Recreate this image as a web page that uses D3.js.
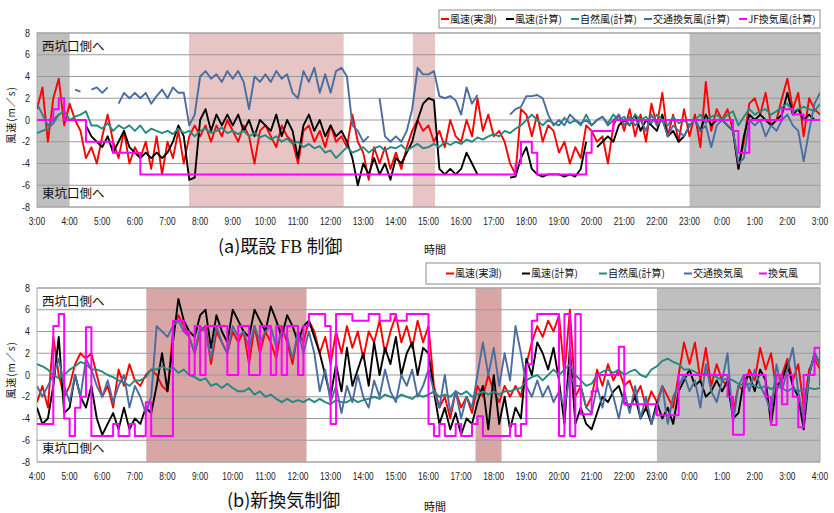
<!DOCTYPE html>
<html>
<head>
<meta charset="UTF-8">
<title>風速 比較</title>
<script src="https://cdnjs.cloudflare.com/ajax/libs/d3/7.8.5/d3.min.js"></script>
<style>
  body { margin: 0; background: #fff; }
  svg { display: block; }
  .num { font-family: "Liberation Sans", sans-serif; font-size: 10.5px; fill: #222; }
  .jp { font-family: "Noto Sans CJK JP", sans-serif; fill: #111; }
</style>
</head>
<body>
<div id="chart"></div>
<script>
// 10-minute samples, index 0 = start of panel (3:00 for a, 4:00 for b)
const STEP_H = 1 / 6;

const namesA = ["風速(実測)", "風速(計算)", "自然風(計算)", "交通換気風(計算)", "JF換気風(計算)"];
const namesB = ["風速(実測)", "風速(計算)", "自然風(計算)", "交通換気風", "換気風"];
const colors = ["#ff0000", "#000000", "#25897f", "#4a6d9f", "#ff00ff"];

const xLabelsA = ["3:00","4:00","5:00","6:00","7:00","8:00","9:00","10:00","11:00","12:00","13:00","14:00","15:00",
  "16:00","17:00","18:00","19:00","20:00","21:00","22:00","23:00","0:00","1:00","2:00","3:00"];
const xLabelsB = ["4:00","5:00","6:00","7:00","8:00","9:00","10:00","11:00","12:00","13:00","14:00","15:00","16:00",
  "17:00","18:00","19:00","20:00","21:00","22:00","23:00","0:00","1:00","2:00","3:00","4:00"];
const yTicks = [-8, -6, -4, -2, 0, 2, 4, 6, 8];

// shaded periods, hours from panel start
const shadeA = [[0, 1, "gray"], [4.66, 9.4, "pink"], [11.52, 12.2, "pink"], [20, 24, "gray"]];
const shadeB = [[3.35, 8.26, "pink"], [13.44, 14.24, "pink"], [19, 24, "gray"]];

// ---- (a) 既設FB制御 ----
const redA = [
  1, 3, -2, 2, 3.8, -0.5,
  1.5, 0, -1, -3.5, -2.5, -4,
  -1.5, 0.5, -2, -3.5, -1, -4,
  -2.5, -3.5, -2, -4.5, -1.5, -5,
  -2, -3.5, -1, -4, -1.5, -0.5,
  -1.5, -0.5, -2, -0.5, -1.5, 0,
  -1, -2, -0.5, -1.5, -4, -1,
  -0.5, -1.5, -2.5, -0.5, -1.5, -2,
  -4, -1, -0.5, -2, -1, -2.5,
  -0.5, -2, -1.5, -2.5, 0.5, -2,
  -3, -5.5, -2.5, -4, -2.5, -4.5,
  -3, -4.5, -2.5, -1, 0, -1,
  -0.5, -2, -1, -2.5, 0, -1.5,
  -2, 0, -1.5, 2, -1, 0.5,
  -1.5, -1, -2, -4, -5, 1,
  0.5, -1.5, 0.5, -2, -0.5, -1,
  -3, -2, -4, -2.5, -3.5, -0.5,
  -1, -2, -1.5, -4, -0.5, 0.5,
  -1, 1, -1.5, 0.5, -2, 1.5,
  -0.5, 2.5, -1.5, 0.5, -2, 1,
  -1.5, 0.5, -2.5, 3.5, -1, 1,
  0, 1, -1, -4.5, -2, 1.5,
  2, 0.5, 2.5, -0.5, 0, 2,
  3.8, 1, 2.5, -1.5, 2, 1,
  0.5];
const blackA = [
  null, null, null, null, null, null,
  null, null, null, -0.5, -1.5, -2,
  -2.5, -1.5, -3, -2, -1, -2.5,
  -3, -3.5, -3, -3.5, -3, -3.5,
  -3, -2, -0.5, -1.5, -5.5, -5.3,
  0, 1, -1, 0.5, -0.5, 0.5,
  -0.5, 0.5, -1, 0, -1.5, 0,
  -0.5, -1, 0.5, -1.5, 0, -1,
  -3.5, -0.5, 0.5, -1, 0, -1.5,
  -0.5, -1.5, -1, -2, -3.5, -6,
  -4, -5, -3.5, -5, -4, -5.5,
  -3.5, -4, -3, -2, 0, 1.5,
  2, 1.8, -4.5, -5, -4.5, -5,
  -4.5, -3, -4, -5, null, null,
  null, null, null, -5.3, -5.2, -3.5,
  -2.5, -4.5, -5, -5.2, -5, -5,
  -5, -5.2, -5, -5.2, -4.5, -2,
  null, -2.5, -2, -1.5, -2, -0.5,
  0, -0.5, 0.5, -1, 0, -0.5,
  -1, 0.5, -1.5, -1, -2, -1.5,
  -0.5, 0, -1, 0.5, -0.5, 0,
  0, -0.5, -1, -4.5, -1.5, 0.5,
  0, 0.5, 0, -0.5, 0, 0.5,
  2.5, 0.5, 1, 0, 0.5, 0,
  0];
const tealA = [
  -1.2, -1, -0.8, -0.3, 0.5, 0.8,
  0, 0.3, 0.5, 0.8, -0.5, -0.5,
  -0.8, -0.3, -1, -0.5, -0.8, -0.5,
  -1, -0.5, -1.2, -0.8, -1, -1.2,
  -1, -1.3, -0.8, -1.2, -1, -1.5,
  -1, -0.8, -1.2, -1, -0.7, -1.2,
  -1, -1.3, -1, -1.5, -1.2, -1.6,
  -1.4, -1.8, -1.5, -2, -1.7, -2.2,
  -2, -2.5, -2.2, -2.6, -2.4, -3,
  -2.8, -3.5, -3, -2.5, -3, -2.8,
  -2.5, -3, -2.6, -2.4, -2.8, -2.5,
  -2.6, -2.3, -2.8, -2.5, -2.2, -2.6,
  -2.5, -2.2, -2.5, -2, -2.3, -2,
  -2.2, -1.8, -2, -1.6, -1.8, -1.5,
  -1.3, -1.5, -1, -1.2, -0.8, -0.5,
  0, 0.5, 0, -0.5, 0, -0.3,
  -0.5, 0.2, -0.3, 0, -0.5, 0.5,
  -0.5, 0, 0.3, -0.3, 0.5, 0,
  0.3, -0.5, 0.5, 0, 0.3, -0.3,
  0.5, 0, -0.5, 0.3, -0.3, 0,
  -0.5, 0, 0.5, -0.3, 0.3, 0.5,
  0, 0.5, 0.8, -0.5, 0.3, 1,
  0.5, 0.8, 1, 0.5, 0.8, 1.2,
  1.5, 0.8, 1, 1.2, 1, 0.8,
  1.5];
const blueA = [
  1.5, 0.5, -0.5, 0, 0.5, null,
  null, 2.8, 2.6, null, 2.8, 3,
  2.5, 3, null, 1.5, 2.5, 2,
  2.5, 2, 2.5, 1.5, 2.2, 2.8,
  2, 3, 2.5, 2.5, -0.5, 0.5,
  4, 4.5, 3.8, 4.2, 3.5, 4.5,
  3.8, 4.5, 3.5, 1, 4, 3.5,
  4.2, 3.5, 4.5, 3.8, 4.2, 2.5,
  2, 4.5, 3.5, 4.8, 2.5, 4.2,
  2.5, 4.5, 4.8, 4, -0.5, -1,
  -2, -1.5, null, 2, -1.5, -2,
  -1.5, -2, -1, 1, 4.8, 4.2,
  4.2, 4.5, 2.2, 2, 2.2, 1.8,
  0.5, 3, 1.5, 2.3, null, null,
  null, null, null, 0.5, 1, 1.2,
  2.2, 2.2, 2.3, 2, 0.5, -0.5,
  0, -0.5, 0.5, 0, -0.3, 0,
  -0.5, 0, 0.3, -0.5, 0, 0.5,
  -0.5, 0.3, -0.5, 0, -1, 0.5,
  -0.5, 0, -1.5, -0.5, -1, -1.5,
  -0.5, 0, -1, -0.5, -2.5, -0.5,
  0, -0.5, -1, -4, -3.5, 0,
  -0.5, 0, -1.5, -0.5, -1, 0,
  0.5, -0.5, -1, -3.8, -1, 1.5,
  2.5];
const jfA = [
  0, 0, 0, 1, 2, 0,
  0, 0, 0, -2, -2, -2,
  -2, -2, -3, -3, -3, -3,
  -3, -5, -5, -5, -5, -5,
  -5, -5, -5, -5, -5, -5,
  -5, -5, -5, -5, -5, -5,
  -5, -5, -5, -5, -5, -5,
  -5, -5, -5, -5, -5, -5,
  -5, -5, -5, -5, -5, -5,
  -5, -5, -5, -5, -5, -5,
  -5, -5, -5, -5, -5, -5,
  -5, -5, -5, -5, -5, -5,
  -5, -5, -5, -5, -5, -5,
  -5, -5, -5, -5, -5, -5,
  -5, -5, -5, -5, -4, -2,
  -2, -3, -5, -5, -5, -5,
  -5, -5, -5, -5, -5, -3,
  -1, -1, -1, -1, 0, 0,
  0, 0, 0, 0, 0, 0,
  0, 0, 0, 0, 0, 0,
  0, 0, 0, 0, 0, 0,
  0, 0, -1, -3, -3, 0,
  0, 0, 0, 0, 0, 1,
  1, 0.5, 0.5, 0, 0, 0,
  0];

// ---- (b) 新換気制御 ----
const redB = [
  -2.5, -1, -3, 3.5, 0, -2,
  -1, 1, 2, 1.5, 2, 0,
  -2, -1, -3, 0.5, -1, 1,
  -0.5, -1, 0, 0.5, 0, -1,
  -1.5, 4, 5.5, 4.5, 3.5, 2,
  4, 4.5, 1, 4, 3, 2,
  4, 3, 4, 1, 4.5, 2,
  4, 3, 1.5, 4.5, 3, 1,
  4, 3, 5, 4, 2, 3.5,
  1, 4, 2, 4.5, 2.5, 4,
  1.5, 4, 3, 5, 2, 4,
  5.5, 3, 4.5, 2.5, 5, 3,
  4.5, -1, -3, -2, -4, -1.5,
  -3, -2, -3.5, -1, -2, 0,
  -1.5, -2.5, -1, -2, -1, -2,
  1, 3, 4.5, 3.5, 5, 4,
  5.5, 0, 6, -2, -1, -3,
  -2, 0.5, -1, 1, -0.5, 0.5,
  -1, -0.5, -2, -1, -3, -1.5,
  -2.5, -1, -2, -3, 0, 3,
  1, 3, -0.5, 2.5, -1, 1,
  -0.5, -1, -3.5, -1, -1.5, 0.5,
  -0.5, 2.5, 0.5, 2, -1.5, 0,
  1.5, -0.5, 1, -3, 0.5, 1.5,
  0.5];
const blackB = [
  -3, -4.5, -4, -1, 3.5, -3.5,
  -3, 0, -2, -3, -1, -4,
  -5.5, -4.5, -3.5, -5, -3, -5,
  -4, -4.5, -3, -3.5, -1, 2,
  -1.5, 3, 7, 5, 4, 3.5,
  5.5, 6, 2.5, 5.5, 4, 3,
  6, 5, 4, 3.5, 6, 5,
  4, 6.3, 5, 3.5, 5.5, 4.5,
  3, 4.5, 5, 3.5, 2, 0,
  -2, 1, -1.5, 2.5, -1, 0.5,
  2, -1, 3, 0, 2.5, 1,
  3.5, 0, 2, 3, 0, 2.5,
  2, -1.5, -4.5, -3, -5, -3.5,
  -5.5, -4, -4.5, -2.5, -1, -5,
  0, -4.5, -2, -5, -3, -4,
  1.5, 0, 3, 2, 0.5, 2.5,
  -0.5, -4.5, 2.5, -4.5, -3, -4.5,
  -5, -3.5, -2, -2.5, -1.5, -1,
  -2.5, -3, -2, -4, -3, -4.5,
  -2.5, -4, -3, -4.5, -1.5, -0.5,
  0.5, -1, -0.5, -2, -1.5, -0.5,
  -1.5, -0.5, -4, -3.5, -0.5, 0,
  -1.5, 0.5, -0.5, -4.5, -1, -0.5,
  1, -1, -2, -5, 0, 2,
  1];
const tealB = [
  1, 0.8, 0.5, 0, -0.3, 0,
  0.5, 0.8, 1.2, 1, 0.5, 0.5,
  0.3, 0, -0.2, -0.5, -0.7, -1,
  -0.5, -0.5, -0.2, 0.5, 0.5, 0.8,
  0.5, 0.7, 0.2, 0.5, 0, -0.2,
  -0.5, -0.3, -1, -0.8, -1.2, -0.8,
  -1.2, -1.5, -1.5, -1.2, -1.8, -1.5,
  -2, -1.8, -2.2, -2.5, -2.2, -2.5,
  -2.3, -2.5, -2.2, -2.5, -2.2, -2.5,
  -2.7, -2.3, -2.5, -2.5, -2.2, -2.5,
  -2.3, -2.2, -2, -2.2, -1.8, -2,
  -2.2, -1.8, -2, -2.2, -1.8, -2,
  -1.8, -1.5, -2, -1.8, -2, -1.5,
  -1.8, -1.5, -2, -1.8, -1.5, -1.8,
  -1.5, -1.8, -1.5, -1.5, -1.3, -1.2,
  -0.5, -0.2, 0, -0.5, 0, 0.5,
  0, 0.5, 1, 0, -0.5, -1,
  -0.8, 0, 0.3, 0.5, 0.2, 0.5,
  0, 0.3, 0.5, 0, -0.2, 0.5,
  0.8, 1.3, 1.5, 1.2, 1, 0.5,
  0.5, 0.3, 0, 0.2, 0, -0.2,
  -0.5, -0.3, -0.5, -0.8, -1, -0.8,
  -1, -1.2, -1, -1.3, -1, -1.2,
  -1.5, -1.2, -1.5, -1.3, -1.2, -1.3,
  -1.2];
const blueB = [
  -1, -2, -1, 0, 1.5, -1,
  -2.5, 0, -2, 1.5, 0.5, -1,
  -2, -0.5, -2.5, -1, 0, -3,
  -1, -2, -3.5, -2, 4.5, 4,
  3.5, 4.5, 5, 4, 3.5, 2,
  4.5, 4, 1.5, 4.5, 3, 2,
  4.5, 3.5, 4, 2.5, 4.5, 3,
  4, 4.5, 2.5, 4, 3.5, 1.5,
  4, 2, 4, 2, -1.5, 0.5,
  -2.5, -1, -3.5, -1, -2.5, 0,
  -2, -3, -0.5, -2, 0.5, -1.5,
  -2.5, 0, -1, 0.5, -2, -1,
  0.5, -1.5, -3, 0, -3.5, -1.5,
  -4, -2, -3, 0, 3, 0,
  2.5, -1, 2, -0.5, 4.5, 2,
  -1, -2, -0.5, -2, -1, -2.5,
  -1.5, -3, 0, -1, -1, -3,
  -3.5, -1, -3, -0.5, -2, -4,
  -1.5, -3.5, -1, -4, -2, -4.5,
  -3, -1, -4.5, -2, -1, 0,
  -1.5, -0.5, -3, 1, -1.5, -2.5,
  -0.5, 2, -4.5, -1, 0, -1.5,
  0.5, -1, -2, -3.5, 1, -1.5,
  0.5, 2.5, -1.5, -4, 0, 2,
  1];
const ventB = [
  -4.5, -4.5, -4.5, 4.5, 5.6, -4,
  -5.6, -3, -2, 4.4, -5.6, -5.6,
  -5.6, -5.6, -4.5, -5.6, -5.6, -4.5,
  -5.6, -5.6, -2.5, -5.6, -5.6, -5.6,
  -5.6, 5, 5, 4, 0, 4.5,
  0, 4.5, 4.5, 4.5, 4.5, 0,
  0, 4.5, 4.5, 0, 0, 4.5,
  4.5, 0, 4.5, 0, 4.5, 4.5,
  0, 4.5, 5.6, 5.6, 5.6, 4.5,
  -4.5, 5.6, 5.6, 5.6, 5, 5,
  5, 5.6, 5.6, 5, 5, 5.6,
  5, 5, 5.6, 5.6, 5.6, 5.6,
  -4.5, -5.6, -4.5, -5.6, -5.6, -4.5,
  -5.6, -5.6, -4.5, -3.8, -5.6, -5.6,
  -5.6, -5.6, -5.6, -4.5, -5.6, -4.5,
  1, 5, 5.6, 5.6, 5.6, 5.6,
  -5.6, 5.6, -5.6, 5.6, -3.6, -3.6,
  -1.5, 0, 0, 0, 0, 2.6,
  -2.7, -2.7, -2.7, -2.7, -2.7, -2.7,
  -3.7, -3.7, -3.7, -3.7, 0, 0,
  0, 0, 0, 0, 0, 0,
  0, -2, -5.5, -5.5, 0, 0,
  0, 0, -2, -4.6, 0, -2.7,
  0, -2, -4.8, 0, 0, 2.5,
  -1];

const W = 834, H = 513;
const svg = d3.select("#chart").append("svg")
  .attr("width", W).attr("height", H)
  .attr("viewBox", [0, 0, W, H]);

const panels = [
  {
    id: "a", top: 33, bottom: 207, left: 37, right: 820,
    series: [redA, blackA, tealA, blueA, jfA], names: namesA,
    xLabels: xLabelsA, shade: shadeA, pink: "#e8c5c5",
    legend: { x: 439, y: 10, w: 381, h: 18, items: [441, 506, 571, 644, 739] },
    title: { x: 218, y: 253 }, timeLabel: { x: 424, y: 254 }
  },
  {
    id: "b", top: 288, bottom: 462, left: 37, right: 820,
    series: [redB, blackB, tealB, blueB, ventB], names: namesB,
    xLabels: xLabelsB, shade: shadeB, pink: "#d9a6a6",
    legend: { x: 426, y: 263, w: 394, h: 21, items: [446, 522, 599, 684, 759] },
    title: { x: 227, y: 507 }, timeLabel: { x: 424, y: 511 }
  }
];

function drawPanel(p) {
  const g = svg.append("g");
  const x = d3.scaleLinear().domain([0, 24]).range([p.left, p.right]);
  const y = d3.scaleLinear().domain([-8, 8]).range([p.bottom, p.top]);

  // shaded periods
  g.selectAll("rect.shade").data(p.shade).join("rect")
    .attr("class", "shade")
    .attr("x", d => x(d[0])).attr("width", d => x(d[1]) - x(d[0]))
    .attr("y", p.top).attr("height", p.bottom - p.top)
    .attr("fill", d => d[2] === "gray" ? "#bfbfbf" : p.pink);

  // grid
  g.selectAll("line.grid").data(yTicks).join("line")
    .attr("x1", p.left).attr("x2", p.right)
    .attr("y1", d => y(d)).attr("y2", d => y(d))
    .attr("stroke", "#9a9a9a").attr("stroke-width", 1);
  g.append("rect")
    .attr("x", p.left).attr("y", p.top)
    .attr("width", p.right - p.left).attr("height", p.bottom - p.top)
    .attr("fill", "none").attr("stroke", "#a8a8a8");

  // y tick labels
  g.selectAll("text.yl").data(yTicks).join("text")
    .attr("class", "num")
    .attr("transform", d => `translate(30,${y(d) + 3.5}) scale(0.85,1)`)
    .attr("text-anchor", "end")
    .text(d => d);

  // x tick labels
  g.selectAll("text.xl").data(p.xLabels).join("text")
    .attr("class", "num")
    .attr("transform", (d, i) => `translate(${x(i)},${p.bottom + 18}) scale(0.8,1)`)
    .attr("text-anchor", "middle")
    .text(d => d);

  // direction labels
  g.append("text").attr("class", "jp").attr("x", 42).attr("y", y(6.35))
    .attr("font-size", 12.5).text("西坑口側へ");
  g.append("text").attr("class", "jp").attr("x", 42).attr("y", y(-7.2))
    .attr("font-size", 12.5).text("東坑口側へ");

  // y axis title
  g.append("text").attr("class", "jp")
    .attr("transform", `translate(15,${(p.top + p.bottom) / 2 - 5}) rotate(-90)`)
    .attr("text-anchor", "middle").attr("font-size", 10)
    .attr("letter-spacing", 1)
    .text("風速(m／s)");

  // series
  const clipId = "clip-" + p.id;
  svg.append("clipPath").attr("id", clipId).append("rect")
    .attr("x", p.left).attr("y", p.top - 2)
    .attr("width", p.right - p.left).attr("height", p.bottom - p.top + 4);
  const lines = g.append("g").attr("clip-path", `url(#${clipId})`);
  p.series.forEach((vals, k) => {
    const line = d3.line()
      .defined(d => d !== null)
      .x((d, i) => x(i * STEP_H))
      .y(d => y(d))
      .curve(k === 4 ? d3.curveStepAfter : d3.curveLinear);
    lines.append("path")
      .datum(vals)
      .attr("fill", "none")
      .attr("stroke", colors[k])
      .attr("stroke-width", k === 4 ? 2 : 1.9)
      .attr("stroke-linejoin", "round")
      .attr("d", line);
  });

  // legend
  const L = p.legend;
  g.append("rect").attr("x", L.x).attr("y", L.y).attr("width", L.w).attr("height", L.h)
    .attr("fill", "#fff").attr("stroke", "#8c8c8c");
  const cy = L.y + L.h / 2;
  p.names.forEach((name, k) => {
    const lx = L.items[k];
    g.append("line").attr("x1", lx).attr("x2", lx + 8).attr("y1", cy).attr("y2", cy)
      .attr("stroke", colors[k]).attr("stroke-width", 2);
    g.append("text").attr("class", "jp").attr("x", lx + 9).attr("y", cy + 3.6)
      .attr("font-size", 10).text(name);
  });

  // titles
  g.append("text").attr("class", "jp").attr("x", p.timeLabel.x).attr("y", p.timeLabel.y)
    .attr("font-size", 11).text("時間");
  const t = g.append("text").attr("class", "jp").attr("x", p.title.x).attr("y", p.title.y)
    .attr("font-size", 18);
  if (p.id === "a") {
    t.append("tspan").text("(a)既設 ");
    t.append("tspan").attr("font-family", "Liberation Serif").text("FB");
    t.append("tspan").text(" 制御");
  } else {
    t.text("(b)新換気制御");
  }
}

panels.forEach(drawPanel);
</script>
</body>
</html>
